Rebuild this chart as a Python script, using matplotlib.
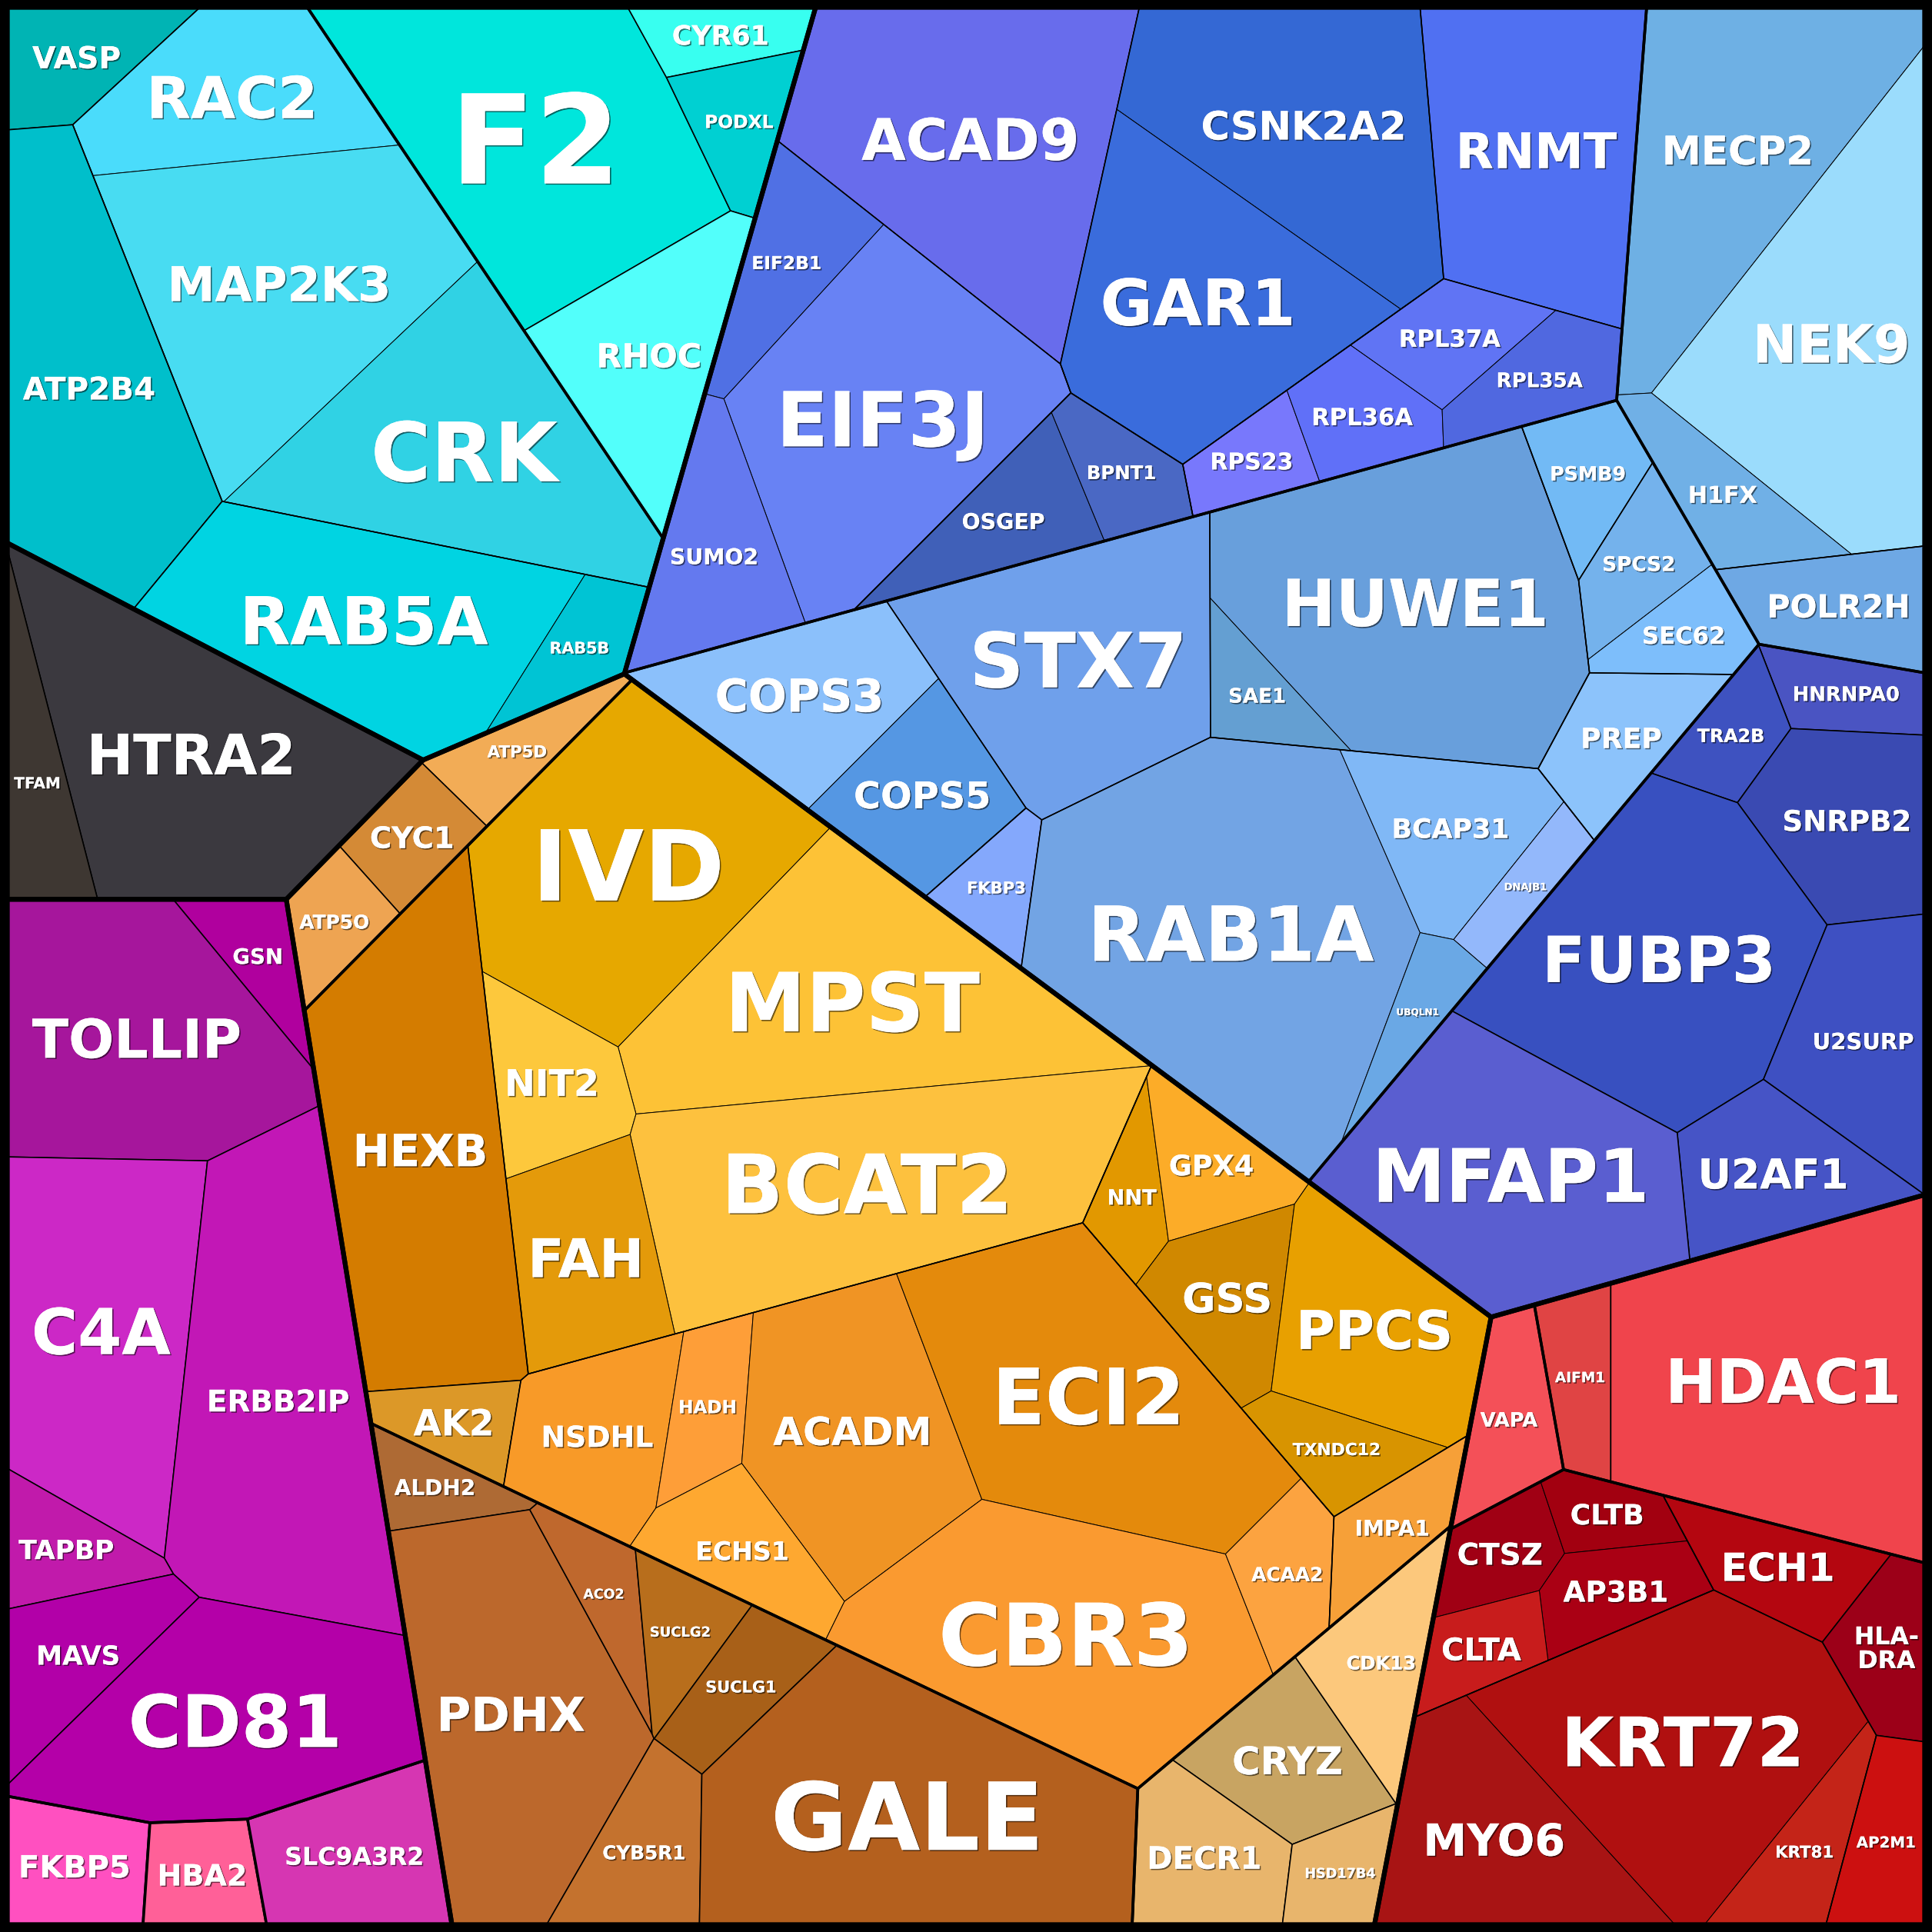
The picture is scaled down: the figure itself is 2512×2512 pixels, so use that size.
import numpy as np
import matplotlib
matplotlib.use("Agg")
import matplotlib.pyplot as plt
from matplotlib.patches import Polygon
from matplotlib.textpath import TextPath
from matplotlib.font_manager import FontProperties
import matplotlib.patheffects as pe

# ---------------- data ----------------
genes = ["VASP", "RAC2", "MAP2K3", "CRK", "ATP2B4", "RAB5A", "RAB5B", "F2", "CYR61", "PODXL", "RHOC",
         "HTRA2", "TFAM",
         "GSN", "TOLLIP", "C4A", "ERBB2IP", "TAPBP", "MAVS", "CD81", "FKBP5", "HBA2", "SLC9A3R2",
         "ATP5D", "CYC1", "ATP5O", "IVD", "MPST", "NIT2", "BCAT2", "FAH", "HEXB", "AK2", "NSDHL", "HADH",
         "ACADM", "ECI2", "ECHS1", "CBR3", "ACAA2", "NNT", "GPX4", "GSS", "PPCS", "TXNDC12", "IMPA1",
         "ALDH2", "PDHX", "ACO2", "SUCLG2", "SUCLG1", "CYB5R1", "GALE", "CRYZ", "CDK13", "DECR1", "HSD17B4",
         "ACAD9", "CSNK2A2", "GAR1", "RNMT", "EIF2B1", "EIF3J", "SUMO2", "OSGEP", "BPNT1", "RPS23",
         "RPL36A", "RPL37A", "RPL35A",
         "MECP2", "NEK9", "H1FX", "POLR2H",
         "STX7", "HUWE1", "SAE1", "COPS3", "COPS5", "FKBP3", "RAB1A", "BCAP31", "DNAJB1", "UBQLN1",
         "PREP", "PSMB9", "SPCS2", "SEC62",
         "HNRNPA0", "TRA2B", "SNRPB2", "FUBP3", "U2SURP", "U2AF1", "MFAP1",
         "VAPA", "AIFM1", "HDAC1", "CTSZ", "CLTB", "AP3B1", "ECH1", "HLA-DRA", "CLTA", "KRT72", "MYO6",
         "KRT81", "AP2M1"]

values = [10.0, 23.5, 50.0, 44.8, 43.7, 42.9, 7.2, 51.9, 6.1, 8.0, 22.3,
          50.8, 10.3,
          6.3, 42.6, 42.1, 55.7, 8.2, 12.6, 40.8, 10.5, 7.5, 16.5,
          6.9, 7.2, 6.3, 48.8, 51.4, 12.6, 56.9, 18.4, 52.5, 6.6, 16.7, 7.9,
          33.3, 50.8, 11.6, 50.5, 8.6, 5.9, 9.5, 12.3, 23.9, 7.7, 7.8,
          5.7, 47.2, 6.5, 7.0, 8.6, 11.7, 59.8, 13.8, 12.0, 13.0, 6.3,
          53.0, 42.7, 41.6, 39.3, 12.2, 48.9, 16.5, 11.8, 7.4, 6.2,
          8.7, 8.8, 9.1,
          42.8, 49.1, 10.4, 12.3,
          40.7, 60.6, 6.4, 21.7, 15.6, 6.0, 75.5, 15.8, 5.2, 5.8,
          10.9, 8.2, 8.3, 6.9,
          7.0, 6.9, 18.5, 50.7, 19.5, 16.2, 46.1,
          9.5, 7.4, 58.2, 7.0, 5.3, 8.2, 10.4, 8.5, 6.5, 48.4, 25.8,
          8.8, 9.0]

groups = (["cyan/L", "cyan/L/M", "cyan/L/M", "cyan/L/M", "cyan/L", "cyan/L/R5", "cyan/L/R5",
           "cyan/R", "cyan/R", "cyan/R", "cyan/R"]
          + ["gray/a"] * 2
          + ["purple/A"] * 7 + ["purple"] * 3
          + ["orange/atp"] * 3 + ["orange/big/yel"] * 5 + ["orange/big"] * 2
          + ["orange/big/low"] * 7 + ["orange/big/gss"] * 5 + ["orange/big"]
          + ["orange/brown"] * 7 + ["orange/tan"] * 4
          + ["blue/b1", "blue/b1/cg", "blue/b1/cg", "blue/b1", "blue/b1/eif", "blue/b1/eif", "blue/b1/eif",
             "blue/b1/bo", "blue/b1/bo", "blue/b1/rpl", "blue/b1/rpl", "blue/b1/rpl", "blue/b1/rpl"]
          + ["blue/b2/m"] * 3 + ["blue/b2"]
          + ["blue/b3", "blue/b3/hu", "blue/b3/hu", "blue/b3/cops", "blue/b3/cops", "blue/b3",
             "blue/b3/rab", "blue/b3/rab", "blue/b3/rab", "blue/b3/rab", "blue/b3", "blue/b3",
             "blue/b3/sp", "blue/b3/sp"]
          + ["blue/b4"] * 7
          + ["red/v", "red/h", "red/h", "red/k/c", "red/k/c", "red/k/c", "red/k", "red/k", "red/k/c",
             "red/k/kr", "red/k/kr", "red/k/kr", "red/k"])

# ---------------- layout: power-diagram sites (1568 px frame) ----------------
seed_x = [55, 210, 225, 400, 75, 295, 470, 430, 658, 661, 560,
          180, 25,
          210, 95, 90, 228, 10, 30, 162, 76, 164, 275,
          410, 335, 268, 520, 675, 395, 690, 445, 347, 375, 475, 570,
          700, 885, 610, 830, 1045, 910, 985, 1010, 1130, 1090, 1227,
          365, 400, 510, 565, 610, 530, 715, 1040, 1120, 980, 1078,
          770, 1050, 955, 1252, 620, 740, 575, 813, 910, 1017,
          1120, 1180, 1250,
          1390, 1530, 1405, 1490,
          969, 1150, 1020, 650, 750, 786, 975, 1180, 1240, 1148,
          1340, 1290, 1322, 1365,
          1500, 1405, 1495, 1345, 1515, 1447, 1245,
          1225, 1282, 1440, 1220, 1310, 1320, 1440, 1560, 1240, 1360, 1227,
          1478, 1535]
seed_y = [45, 65, 215, 400, 300, 470, 580, 130, 4, 19, 354,
          620, 660,
          745, 840, 1095, 1110, 1235, 1330, 1465, 1510, 1516, 1496,
          605, 682, 742, 665, 815, 890, 975, 1030, 888, 1269, 1170, 1185,
          1195, 1125, 1262, 1370, 1285, 965, 955, 1040, 1055, 1180, 1349,
          1200, 1430, 1370, 1365, 1398, 1505, 1508, 1425, 1370, 1510, 1522,
          130, 115, 250, 160, 230, 340, 400, 420, 380, 372,
          335, 250, 330,
          140, 250, 405, 495,
          512, 500, 620, 545, 645, 755, 760, 670, 718, 825,
          620, 455, 462, 518,
          563, 600, 665, 775, 845, 940, 960,
          1150, 1115, 1115, 1262, 1232, 1330, 1206, 1300, 1340, 1385, 1506,
          1480, 1487]

# sites of the grouping cells
group_sites = {"cyan": (313.7, 262.2), "gray": (140.8, 593.4), "purple": (140.8, 1214.4),
               "orange": (683.7, 1126.7), "blue": (1147.6, 501.5), "red": (1360.5, 1256.6),
               "cyan/L": (244.2, 308.8), "cyan/R": (488.5, 145.1),
               "cyan/L/M": (232.5, 237.5), "cyan/L/R5": (199.3, 402.4),
               "purple/A": (149.2, 1116.7),
               "orange/atp": (339.7, 674.5), "orange/big": (695.9, 1027.3),
               "orange/brown": (506.0, 1426.0), "orange/tan": (1049.3, 1448.4),
               "orange/big/yel": (601.4, 858.9), "orange/big/low": (729.0, 1327.0),
               "orange/big/gss": (1047.9, 1054.3),
               "blue/b1": (919.8, 234.4), "blue/b2": (1449.2, 274.8),
               "blue/b3": (1002.5, 535.4), "blue/b4": (1353.5, 829.5),
               "blue/b1/eif": (620.0, 320.0), "blue/b1/bo": (800.0, 500.0),
               "blue/b1/rpl": (1177.0, 426.0),
               "blue/b3/rab": (1110.0, 800.0), "blue/b3/cops": (720.0, 680.0),
               "red/k": (1351.2, 1389.7)}

colors = ["#00b4b4", "#4adcfb", "#48dcf2", "#30d2e4", "#00bfcb", "#00d4e2", "#00c4d4", "#00e6dc", "#38fff0",
          "#00d0d2", "#52fffb",
          "#3b393f", "#3e3732",
          "#b0009e", "#a6169c", "#cc28c6", "#c217b6", "#c11aab", "#b200a8", "#b400a8", "#ff50c0", "#ff6098",
          "#d636b2",
          "#f2ac56", "#d48a36", "#eea452", "#e6a800", "#fdc236", "#fdc83c", "#fdc13e", "#e49a0a", "#d47c00",
          "#dc9828", "#f89a28", "#fe9e38", "#f09424", "#e48a0c", "#fea830", "#fa9a30", "#fca340", "#e29800",
          "#fcac28", "#d08800", "#e8a000", "#d89400", "#f6a038",
          "#ae6a34", "#bc682c", "#bf682d", "#b86e1c", "#a86018", "#c4722e", "#b4601e", "#c8a462", "#fcc87c",
          "#e8b56c", "#e8b56c",
          "#686cec", "#3468d4", "#3a6cdc", "#5070f2", "#5070e4", "#6882f4", "#6479ef", "#4060b8", "#4a68c4",
          "#7878fc", "#6070f8", "#6074f4", "#5068e0",
          "#6eb0e4", "#9bdcfc", "#70b0e6", "#6ea8e4",
          "#6fa0eb", "#689fdc", "#649fd2", "#8bc0fb", "#5597e3", "#84a8fc", "#72a4e4", "#80b8f6", "#93b8fb",
          "#6aa8e5", "#8cc3fb", "#72baf5", "#74b2ec", "#7dbefb",
          "#4a54c2", "#3e52c0", "#3a4ab2", "#3850c0", "#3e50c2", "#4654c6", "#5a5ed0",
          "#f45058", "#e04444", "#f0444c", "#a00014", "#a20010", "#aa0014", "#b40610", "#9c0018", "#c81c1c",
          "#b01010", "#a81414", "#c42418", "#cc1010"]

SIZE = 1568.0
REGION = [(6.0, 6.0), (1562.0, 6.0), (1562.0, 1562.0), (6.0, 1562.0)]
LW = {1: 4.4, 2: 2.6, 3: 1.15, 4: 0.7, 5: 0.5}


# ---------------- geometry helpers ----------------
def clip(poly, labs, nx, ny, c, lab_new):
    """Keep the half plane nx*x + ny*y <= c, carrying an edge label per edge."""
    out, olab = [], []
    m = len(poly)
    for i in range(m):
        px, py = poly[i]
        qx, qy = poly[(i + 1) % m]
        dp = nx * px + ny * py - c
        dq = nx * qx + ny * qy - c
        if dp <= 0:
            out.append((px, py))
            olab.append(labs[i])
            if dq > 0:
                t = dp / (dp - dq)
                out.append((px + t * (qx - px), py + t * (qy - py)))
                olab.append(lab_new)
        elif dq <= 0:
            t = dp / (dp - dq)
            out.append((px + t * (qx - px), py + t * (qy - py)))
            olab.append(labs[i])
    return out, olab


def area_centroid(poly):
    if len(poly) < 3:
        return 0.0, None
    p = np.asarray(poly)
    x, y = p[:, 0], p[:, 1]
    x1, y1 = np.roll(x, -1), np.roll(y, -1)
    cr = x * y1 - x1 * y
    a = cr.sum() / 2
    if abs(a) < 1e-9:
        return 0.0, None
    return abs(a), (((x + x1) * cr).sum() / (6 * a), ((y + y1) * cr).sum() / (6 * a))


def power_cells(region, sites, w):
    cells = []
    n = len(sites)
    for i in range(n):
        poly, labs = list(region), [-1] * len(region)
        xi, yi = sites[i]
        for j in range(n):
            if j == i:
                continue
            xj, yj = sites[j]
            c = (xj * xj + yj * yj) - (xi * xi + yi * yi) - w[j] + w[i]
            poly, labs = clip(poly, labs, 2 * (xj - xi), 2 * (yj - yi), c, j)
            if len(poly) < 3:
                poly, labs = [], []
                break
        cells.append((poly, labs))
    return cells


def power_layout(region, sites, targets, iters=800):
    """Adjust power weights until every cell has its target area."""
    n = len(sites)
    if n == 1:
        return [region]
    w = np.zeros(n)
    for _ in range(iters):
        cells = power_cells(region, sites, w)
        areas = np.array([area_centroid(c[0])[0] for c in cells])
        err = targets - areas
        if np.max(np.abs(err) / targets) < 0.002:
            break
        for k in range(n):
            poly, labs = cells[k]
            g = 0.0
            for e in range(len(poly)):
                j = labs[e]
                if j < 0:
                    continue
                p, q = poly[e], poly[(e + 1) % len(poly)]
                L = np.hypot(q[0] - p[0], q[1] - p[1])
                d = np.hypot(sites[k][0] - sites[j][0], sites[k][1] - sites[j][1])
                g += L / (2 * d)
            if g < 1e-6:
                g = 0.5
            w[k] += 0.45 * err[k] / g
    return [c[0] for c in cells]


# ---------------- hierarchy ----------------
def build_tree():
    root = {"children": {}, "leaf": None, "depth": 0, "path": ""}
    for i, g in enumerate(groups):
        node = root
        for part in g.split("/"):
            path = part if node["path"] == "" else node["path"] + "/" + part
            node = node["children"].setdefault(
                part, {"children": {}, "leaf": None, "depth": node["depth"] + 1, "path": path})
        node["children"][genes[i]] = {"children": {}, "leaf": i, "depth": node["depth"] + 1,
                                      "path": node["path"] + "/" + genes[i]}
    return root


def summarize(node):
    if node["leaf"] is not None:
        i = node["leaf"]
        node["value"] = values[i]
        node["site"] = (seed_x[i], seed_y[i])
        return
    tot, sx, sy = 0.0, 0.0, 0.0
    for k in node["children"].values():
        summarize(k)
        tot += k["value"]
        sx += k["value"] * k["site"][0]
        sy += k["value"] * k["site"][1]
    node["value"] = tot
    node["site"] = group_sites.get(node["path"], (sx / tot, sy / tot))


def layout(node, region):
    node["poly"] = region
    kids = list(node["children"].values())
    if not kids or len(region) < 3:
        return
    A = area_centroid(region)[0]
    tot = sum(k["value"] for k in kids)
    targets = np.array([k["value"] / tot * A for k in kids])
    cells = power_layout(region, [k["site"] for k in kids], targets)
    for k, c in zip(kids, cells):
        layout(k, c)


tree = build_tree()
summarize(tree)
layout(tree, REGION)

# ---------------- drawing ----------------
fig = plt.figure(figsize=(25.12, 25.12), dpi=100)
fig.patch.set_facecolor("black")
ax = fig.add_axes([0, 0, 1, 1])
ax.set_xlim(0, SIZE)
ax.set_ylim(SIZE, 0)
ax.axis("off")
ax.set_facecolor("black")

fp = FontProperties(family="DejaVu Sans", weight="bold")
PT = (2512 / SIZE) * 72 / 100.0   # points per frame unit


def inside(poly, pt, sign):
    m = len(poly)
    for e in range(m):
        p, q = poly[e], poly[(e + 1) % m]
        cr = (q[0] - p[0]) * (pt[1] - p[1]) - (q[1] - p[1]) * (pt[0] - p[0])
        if cr * sign < 0:
            return False
    return True


def fit_size(poly, cx, cy, W, H):
    p = np.asarray(poly)
    sign = np.sign(np.sum(p[:, 0] * np.roll(p[:, 1], -1) - np.roll(p[:, 0], -1) * p[:, 1]))
    lo, hi = 0.0, 400.0
    for _ in range(30):
        s = (lo + hi) / 2
        hw, hh = s * W / 2, s * H / 2
        corners = [(cx - hw, cy - hh), (cx + hw, cy - hh), (cx + hw, cy + hh), (cx - hw, cy + hh)]
        if all(inside(poly, c, sign) for c in corners):
            lo = s
        else:
            hi = s
    return lo


def draw(node):
    if node["leaf"] is not None:
        i = node["leaf"]
        poly = node["poly"]
        if len(poly) < 3:
            return
        ax.add_patch(Polygon(poly, closed=True, facecolor=colors[i], edgecolor="black",
                             lw=LW.get(node["depth"], 0.5), zorder=1))
        A, (cx, cy) = area_centroid(poly)
        lines = genes[i].replace("-", "-\n").split("\n")
        W = max(TextPath((0, 0), ln, size=1, prop=fp).get_extents().width for ln in lines)
        H = 0.73 + 1.12 * (len(lines) - 1)
        nchar = max(len(ln) for ln in lines)
        s = min(0.8 * fit_size(poly, cx, cy, W, H), 0.62 * np.sqrt(A / nchar))
        shadow = [pe.withSimplePatchShadow(offset=(1.2, -1.2), shadow_rgbFace="black", alpha=0.55),
                  pe.Normal()]
        if len(lines) == 1:
            ax.text(cx, cy + 0.365 * s, lines[0], ha="center", va="baseline", color="white",
                    fontproperties=fp, fontsize=s * PT, zorder=20, path_effects=shadow)
        else:
            ax.text(cx, cy, "\n".join(lines), ha="center", va="center", color="white",
                    fontproperties=fp, fontsize=s * PT, linespacing=1.0, zorder=20,
                    path_effects=shadow)
        return
    for k in node["children"].values():
        draw(k)
    if node["depth"] > 0 and len(node["poly"]) >= 3:
        ax.add_patch(Polygon(node["poly"], closed=True, fill=False, edgecolor="black",
                             lw=LW.get(node["depth"], 0.5), zorder=10 - node["depth"]))


draw(tree)
ax.add_patch(plt.Rectangle((0, 0), SIZE, SIZE, fill=False, edgecolor="black", lw=14, zorder=30))

fig.savefig("out.png", dpi=100, facecolor="black")
